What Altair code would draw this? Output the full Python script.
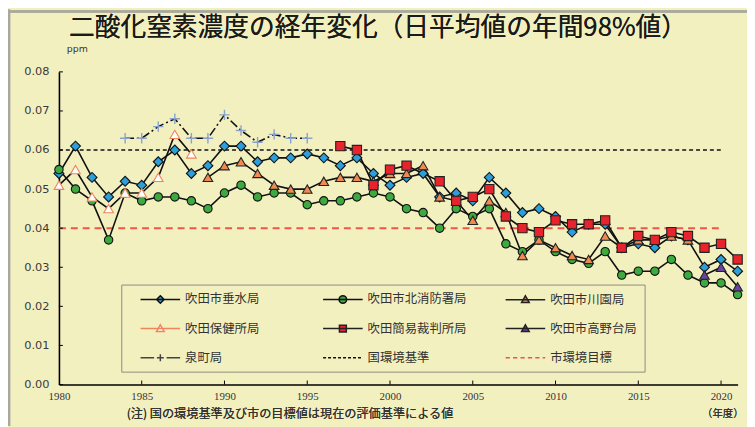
import altair as alt
import pandas as pd

# ---------------- data ----------------
series_names = ["吹田市垂水局", "吹田市北消防署局", "吹田市川園局", "吹田保健所局",
                "吹田簡易裁判所局", "吹田市高野台局", "泉町局"]
reference_names = ["国環境基準", "市環境目標"]
start_years = [1980, 1980, 1989, 1980, 1997, 2019, 1984]

tarumi = [0.054, 0.061, 0.053, 0.048, 0.052, 0.051, 0.057, 0.060, 0.054, 0.056,
          0.061, 0.061, 0.057, 0.058, 0.058, 0.059, 0.058, 0.056, 0.058, 0.054,
          0.051, 0.053, 0.054, 0.048, 0.049, 0.047, 0.053, 0.049, 0.044, 0.045,
          0.043, 0.039, 0.041, 0.041, 0.035, 0.036, 0.035, 0.038, 0.037, 0.030,
          0.032, 0.029]
kita = [0.055, 0.050, 0.047, 0.037, 0.049, 0.047, 0.048, 0.048, 0.047, 0.045,
        0.049, 0.051, 0.048, 0.049, 0.049, 0.046, 0.047, 0.047, 0.048, 0.049,
        0.048, 0.045, 0.044, 0.040, 0.045, 0.043, 0.045, 0.036, 0.034, 0.037,
        0.034, 0.032, 0.031, 0.034, 0.028, 0.029, 0.029, 0.032, 0.028, 0.026,
        0.026, 0.023]
kawazono = [0.053,
            0.056, 0.057, 0.054, 0.051, 0.050, 0.050, 0.052, 0.053, 0.053, 0.052,
            0.054, 0.054, 0.056, 0.048, 0.047, 0.042, 0.047, 0.044, 0.033, 0.037,
            0.035, 0.033, 0.032, 0.038, 0.035, 0.037, 0.037, 0.038, 0.037]
hoken = [0.051, 0.055, 0.048, 0.045, 0.049, 0.049, 0.053, 0.064, 0.059]
saiban = [0.061, 0.060, 0.051, 0.055, 0.056, None, 0.052, 0.047, 0.048, 0.050,
          0.043, 0.040, 0.039, 0.042, 0.041, 0.041, 0.042, 0.035, 0.038, 0.037,
          0.039, 0.038, 0.035, 0.036, 0.032]
takanodai = [0.028, 0.030, 0.025]
izumi = [0.063, 0.063, 0.066, 0.068, 0.063, 0.063, 0.069, 0.065, 0.062, 0.064,
         0.063, 0.063]
series_values = [tarumi, kita, kawazono, hoken, saiban, takanodai, izumi]

reference_levels = [0.06, 0.04]
reference_from = [1980, 1980]
reference_to = [2020, 2020]

x_tick_years = [1980, 1985, 1990, 1995, 2000, 2005, 2010, 2015, 2020]
y_tick_values = [0.00, 0.01, 0.02, 0.03, 0.04, 0.05, 0.06, 0.07, 0.08]

title_text = "二酸化窒素濃度の経年変化（日平均値の年間98%値）"
note_text = "(注) 国の環境基準及び市の目標値は現在の評価基準による値"
unit_text = "ppm"
year_unit_text = "（年度）"

# ---------------- tables ----------------
rows = []
for name, y0, vals in zip(series_names, start_years, series_values):
    for i, v in enumerate(vals):
        if v is not None:
            rows.append({"series": name, "year": y0 + i, "value": v})
df = pd.DataFrame(rows)
ref_df = pd.DataFrame({"series": reference_names, "level": reference_levels,
                       "x0": reference_from, "x1": reference_to})
xt_df = pd.DataFrame({"year": x_tick_years[1:]})
yt_df = pd.DataFrame({"value": y_tick_values})

# ---------------- styles ----------------
BG = "#F3F0C0"
JP = "Noto Sans CJK JP"
W, H = 686, 316

plus_path = "M-1,0H1M0,-1V1"
marker_style = {
    "吹田市垂水局": dict(shape="diamond", size=100, fill="#2C9FDA", stroke="#111111"),
    "吹田市北消防署局": dict(shape="circle", size=72, fill="#3DAA3F", stroke="#111111"),
    "吹田市川園局": dict(shape="triangle-up", size=95, fill="#EF8A52", stroke="#222222"),
    "吹田保健所局": dict(shape="triangle-up", size=95, fill="#FFFFFF", stroke="#F2845A"),
    "吹田簡易裁判所局": dict(shape="square", size=88, fill="#E8232B", stroke="#222222"),
    "吹田市高野台局": dict(shape="triangle-up", size=95, fill="#6B43A3", stroke="#222222"),
    "泉町局": dict(shape=plus_path, size=110, fill="transparent", stroke="#8AA2CC"),
}
line_dash = {"泉町局": [9, 3, 2, 3]}

# legend symbols: symbol box 14px (unit 7px); the 40px sample line runs to the
# right of the box so that nothing reaches left of the entry origin
U = 7.0
def u(px):
    return (px - U) / U
LA, LB, LC = u(11.5), u(51.5), u(31.5)
M = 0.55

def dashed(seg, gap):
    parts, x = [], LA
    while x < LB:
        parts.append(f"M{x:.3f},0H{min(x + seg, LB):.3f}")
        x += seg + gap
    return "".join(parts)

line_part = f"M{LA:.3f},0H{LB:.3f}"
tri = f"M{LC:.3f},{-M}L{LC + M:.3f},{0.42}L{LC - M:.3f},{0.42}Z"
legend_names = series_names + reference_names
legend_paths = [
    line_part + f"M{LC:.3f},{-M}L{LC + M:.3f},0L{LC:.3f},{M}L{LC - M:.3f},0Z",
    line_part + f"M{LC + M:.3f},0A{M},{M} 0 1,1 {LC - M:.3f},0A{M},{M} 0 1,1 {LC + M:.3f},0Z",
    line_part + tri,
    line_part + tri,
    line_part + f"M{LC - 0.5:.3f},-0.5H{LC + 0.5:.3f}V0.5H{LC - 0.5:.3f}Z",
    line_part + tri,
    f"M{LA:.3f},0H{LC - 0.9:.3f}M{LC + 0.9:.3f},0H{LB:.3f}"
    f"M{LC - 0.5:.3f},0H{LC + 0.5:.3f}M{LC:.3f},-0.5V0.5",
    dashed(0.43, 0.29),
    dashed(0.62, 0.45),
]
legend_fills = ["#2C9FDA", "#3DAA3F", "#EF8A52", "#FFFFFF", "#E8232B", "#6B43A3",
                "transparent", "transparent", "transparent"]
legend_strokes = ["#111111", "#111111", "#222222", "#F2845A", "#222222", "#222222",
                  "#444444", "#111111", "#F0554A"]

# ---------------- scales / axes ----------------
xscale = alt.Scale(domain=[1980, 2021], nice=False, zero=False)
yscale = alt.Scale(domain=[0, 0.08], nice=False, zero=True)
xaxis = alt.Axis(values=x_tick_years, format="d", title=None, grid=False, ticks=False,
                 labelFont="Liberation Sans Narrow", labelFontSize=11, labelColor="#333333",
                 labelPadding=6, domainColor="#000000", domainWidth=1.6, labelFlush=False)
yaxis = alt.Axis(values=y_tick_values, format=".2f", grid=False, ticks=False,
                 labelFont="DejaVu Sans", labelFontSize=11.5, labelColor="#3A3A3A",
                 labelPadding=10, domainColor="#000000", domainWidth=1.6,
                 title=unit_text, titleAngle=0, titleX=18, titleY=-24, titleAlign="center",
                 titleBaseline="middle", titleFont="DejaVu Sans", titleFontSize=9.5,
                 titleFontWeight="normal", titleColor="#333333")

def X(field):
    return alt.X(field, type="quantitative", scale=xscale, axis=xaxis)

def Y(field):
    return alt.Y(field, type="quantitative", scale=yscale, axis=yaxis)

layers = []

# outer frame (top and left grey edge)
layers.append(alt.Chart(ref_df).mark_rule(stroke="#A9A89E", strokeWidth=2.5).encode(
    x=alt.value(-51.5), x2=alt.value(W + 10), y=alt.value(-61)))
layers.append(alt.Chart(ref_df).mark_rule(stroke="#A9A89E", strokeWidth=2.5).encode(
    x=alt.value(-50.5), y=alt.value(-63), y2=alt.value(H + 42)))

# reference lines
layers.append(alt.Chart(ref_df).transform_filter(alt.datum.series == "国環境基準")
              .mark_rule(stroke="#111111", strokeWidth=1.5, strokeDash=[4, 3])
              .encode(x=X("x0"), x2="x1", y=Y("level")))
layers.append(alt.Chart(ref_df).transform_filter(alt.datum.series == "市環境目標")
              .mark_rule(stroke="#F0554A", strokeWidth=2, strokeDash=[7, 5])
              .encode(x=X("x0"), x2="x1", y=Y("level")))

# inner tick marks
layers.append(alt.Chart(yt_df).mark_rule(stroke="#000000", strokeWidth=1).encode(
    y=Y("value"), x=alt.value(0), x2=alt.value(4)))
layers.append(alt.Chart(xt_df).mark_rule(stroke="#000000", strokeWidth=1).encode(
    x=X("year"), y=alt.value(H), y2=alt.value(H - 4)))

# series
for name in series_names:
    sdf = df[df["series"] == name]
    lkw = dict(color="#111111", strokeWidth=1.6)
    if name in line_dash:
        lkw["strokeDash"] = line_dash[name]
    layers.append(alt.Chart(sdf).mark_line(**lkw).encode(x=X("year"), y=Y("value")))
for name in series_names:
    sdf = df[df["series"] == name]
    st = marker_style[name]
    layers.append(alt.Chart(sdf).mark_point(
        shape=st["shape"], size=st["size"], fill=st["fill"], stroke=st["stroke"],
        strokeWidth=1.4 if name == "泉町局" else 1.1, opacity=1, filled=False
    ).encode(x=X("year"), y=Y("value")))

# legend (scales only, no marks drawn)
legend_df = pd.DataFrame({"series": legend_names})
legend_layer = alt.Chart(legend_df).transform_filter("false").mark_point(
    strokeWidth=1.5, opacity=1
).encode(
    shape=alt.Shape("series:N", scale=alt.Scale(domain=legend_names, range=legend_paths),
                    legend=alt.Legend(
                        title=None, orient="none", legendX=63, legendY=215, columns=3,
                        direction="horizontal",
                        symbolSize=(2 * U) ** 2, symbolStrokeWidth=1.5, symbolOpacity=1,
                        labelFont=JP, labelFontSize=12.5, labelColor="#333333",
                        labelOffset=41.5, labelLimit=300, columnPadding=26.5, rowPadding=14.5,
                        padding=7, strokeColor="#8C8C84", fillColor=BG, gridAlign="all")),
    fill=alt.Fill("series:N", scale=alt.Scale(domain=legend_names, range=legend_fills)),
    stroke=alt.Stroke("series:N", scale=alt.Scale(domain=legend_names, range=legend_strokes)),
)
layers.append(legend_layer)

# texts
layers.append(alt.Chart(ref_df).mark_text(
    text=title_text, font=JP, fontSize=26, color="#1A1A1A", align="center", baseline="middle"
).encode(x=alt.value(322.5), y=alt.value(-44)))
layers.append(alt.Chart(ref_df).mark_text(
    text=note_text, font=JP, fontSize=12.3, color="#333333", align="left", baseline="middle"
).encode(x=alt.value(68.5), y=alt.value(H + 29.5)))
layers.append(alt.Chart(ref_df).mark_text(
    text=year_unit_text, font=JP, fontSize=10.5, color="#333333", align="center", baseline="middle"
).encode(x=alt.value(671), y=alt.value(H + 29.5)))

chart = alt.layer(*layers).properties(
    width=W, height=H,
    background=BG,
    autosize=alt.AutoSizeParams(type="none"),
    padding={"left": 51.5, "top": 62.3, "right": 9.5, "bottom": 40.7},
).configure_view(stroke=None)

chart.save("out.html", embed_options={"renderer": "svg", "actions": False})
